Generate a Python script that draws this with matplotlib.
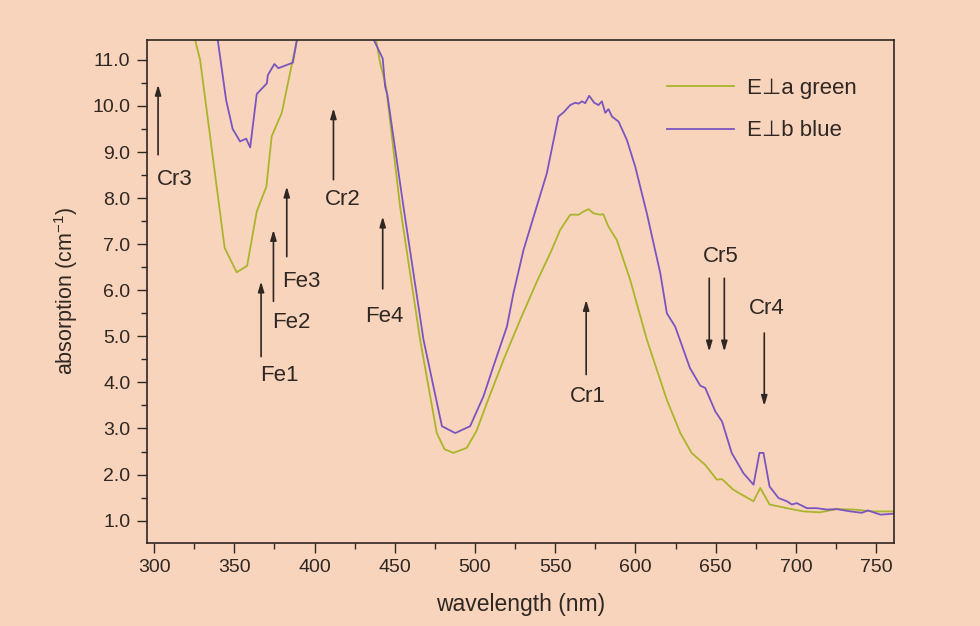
import matplotlib
matplotlib.use("Agg")
import matplotlib.pyplot as plt
import numpy as np
from matplotlib.ticker import MultipleLocator

plt.rcParams['font.family'] = ['Liberation Sans', 'DejaVu Sans']

# E⊥a green, short-wavelength branch
green_wl_1 = [325.6, 328.7, 344.0, 351.5, 358.0, 364.0, 370.0, 373.3, 379.6, 389.0]
green_ab_1 = [11.43, 11.0, 6.92, 6.39, 6.53, 7.71, 8.25, 9.34, 9.85, 11.43]
# E⊥a green, long-wavelength branch
green_wl_2 = [438.4, 440.9, 444.6, 453.3, 465.8, 476.2, 481.0, 486.6, 494.9, 501.0, 507.4,
              517.8, 528.2, 538.6, 547.9, 553.1, 559.4, 564.6, 567.7, 570.8, 573.9, 578.0, 580.0,
              583.2, 588.4, 596.7, 607.1, 619.6, 628.0, 635.0, 643.5, 650.7, 654.0,
              661.0, 667.0, 673.6, 677.8, 683.6, 694.4, 704.7, 715.0, 725.5, 736.0, 748.5, 761.0]
green_ab_2 = [11.43, 10.93, 10.42, 7.82, 4.93, 2.90, 2.55, 2.47, 2.58, 2.95, 3.55,
              4.49, 5.36, 6.19, 6.88, 7.31, 7.64, 7.64, 7.71, 7.76, 7.67, 7.64, 7.65,
              7.38, 7.09, 6.23, 4.93, 3.62, 2.90, 2.47, 2.21, 1.89, 1.90,
              1.67, 1.55, 1.42, 1.71, 1.35, 1.27, 1.20, 1.18, 1.25, 1.24, 1.20, 1.20]

# E⊥b blue, short-wavelength branch
blue_wl_1 = [339.7, 344.9, 349.0, 353.6, 357.4, 359.9, 364.0, 370.3, 370.9, 375.0, 377.5, 386.5, 389.0]
blue_ab_1 = [11.43, 10.13, 9.50, 9.23, 9.29, 9.10, 10.26, 10.49, 10.67, 10.91, 10.82, 10.94, 11.43]
# E⊥b blue, long-wavelength branch
blue_wl_2 = [437.0, 442.5, 444.0, 445.4, 455.4, 467.9, 479.4, 487.7, 497.0, 505.3, 511.5,
             519.9, 524.0, 530.3, 544.8, 552.0, 555.2, 559.4, 562.5, 564.6, 566.7, 568.7, 571.2,
             574.3, 577.0, 579.1, 581.2, 583.2, 585.4, 589.5, 594.7, 599.9, 607.1, 615.5,
             619.6, 624.8, 634.0, 640.4, 643.5, 649.8, 654.0, 660.0, 667.3, 673.6, 677.3,
             679.8, 683.6, 689.2, 694.4, 697.5, 700.6, 706.9, 713.0, 719.3, 725.5, 734.0,
             741.0, 745.0, 752.6, 761.0]
blue_ab_2 = [11.43, 11.03, 10.42, 10.24, 7.82, 4.93, 3.05, 2.90, 3.05, 3.70, 4.35,
             5.21, 5.94, 6.88, 8.54, 9.77, 9.86, 10.02, 10.07, 10.05, 10.10, 10.06, 10.22,
             10.07, 10.02, 10.10, 9.85, 9.93, 9.77, 9.66, 9.26, 8.68, 7.67, 6.37,
             5.50, 5.21, 4.31, 3.93, 3.88, 3.37, 3.15, 2.47, 2.03, 1.78, 2.47,
             2.47, 1.74, 1.49, 1.42, 1.35, 1.38, 1.27, 1.27, 1.24, 1.25, 1.20,
             1.17, 1.22, 1.13, 1.15]

series_labels = ["E\u22a5a green", "E\u22a5b blue"]

# annotations: label, arrow x, tail y, head y, text x, text y
ann_labels = ["Cr3", "Fe1", "Fe2", "Fe3", "Cr2", "Fe4", "Cr1", "Cr5", "Cr5", "Cr4"]
ann_x = [302.5, 366.7, 374.4, 382.7, 411.8, 442.5, 569.3, 646.0, 655.4, 680.3]
ann_tail = [8.94, 4.56, 5.76, 6.73, 8.40, 6.03, 4.17, 6.26, 6.26, 5.07]
ann_head = [10.46, 6.19, 7.31, 8.25, 9.95, 7.60, 5.79, 4.67, 4.67, 3.49]
ann_tx = [313.0, 378.0, 385.8, 392.0, 417.6, 443.4, 570.6, None, 652.9, 682.0]
ann_ty = [8.40, 4.15, 5.30, 6.19, 7.98, 5.43, 3.69, None, 6.73, 5.61]

bg = "#f8d4bd"
green = "#a9b52a"
blue = "#7a55bf"
ink = "#2f2722"

fig = plt.figure(figsize=(9.8, 6.26), dpi=100, facecolor=bg)
ax = fig.add_axes([0.150, 0.133, 0.762, 0.803], facecolor=bg)

ax.plot(green_wl_1, green_ab_1, color=green, lw=1.3, label=series_labels[0])
ax.plot(green_wl_2, green_ab_2, color=green, lw=1.3)
ax.plot(blue_wl_1, blue_ab_1, color=blue, lw=1.3, label=series_labels[1])
ax.plot(blue_wl_2, blue_ab_2, color=blue, lw=1.3)

for lab, x, t, h, tx, ty in zip(ann_labels, ann_x, ann_tail, ann_head, ann_tx, ann_ty):
    ax.annotate("", xy=(x, h), xytext=(x, t),
                arrowprops=dict(arrowstyle="-|>,head_length=0.6,head_width=0.18",
                                color=ink, lw=1.2, shrinkA=0, shrinkB=0))
    if tx is not None:
        ax.text(tx, ty, lab, ha="center", va="center", fontsize=16, color=ink)

ax.set_xlim(295.6, 761)
ax.set_ylim(0.52, 11.43)
ax.xaxis.set_major_locator(MultipleLocator(50))
ax.xaxis.set_minor_locator(MultipleLocator(25))
ax.yaxis.set_major_locator(MultipleLocator(1))
ax.yaxis.set_minor_locator(MultipleLocator(0.5))
ax.yaxis.set_major_formatter(matplotlib.ticker.FormatStrFormatter("%.1f"))
ax.tick_params(which="both", direction="out", colors=ink, labelsize=14,
               top=False, right=False)
ax.tick_params(which="major", length=7, width=1, pad=5)
ax.tick_params(which="minor", length=4, width=1)
for s in ax.spines.values():
    s.set_color(ink)
    s.set_linewidth(1.2)

ax.set_xlabel("wavelength (nm)", fontsize=16.5, color=ink, labelpad=12)
ax.set_ylabel("absorption (cm$^{\\mathregular{-1}}$)", fontsize=15.5, color=ink, labelpad=9)

leg = ax.legend(loc="upper left", frameon=False, fontsize=16, handlelength=3.0,
                handletextpad=0.6, labelspacing=0.95, bbox_to_anchor=(0.697, 0.924),
                borderaxespad=0, borderpad=0)
for t in leg.get_texts():
    t.set_color(ink)

fig.savefig("out.png", dpi=100, facecolor=bg)
